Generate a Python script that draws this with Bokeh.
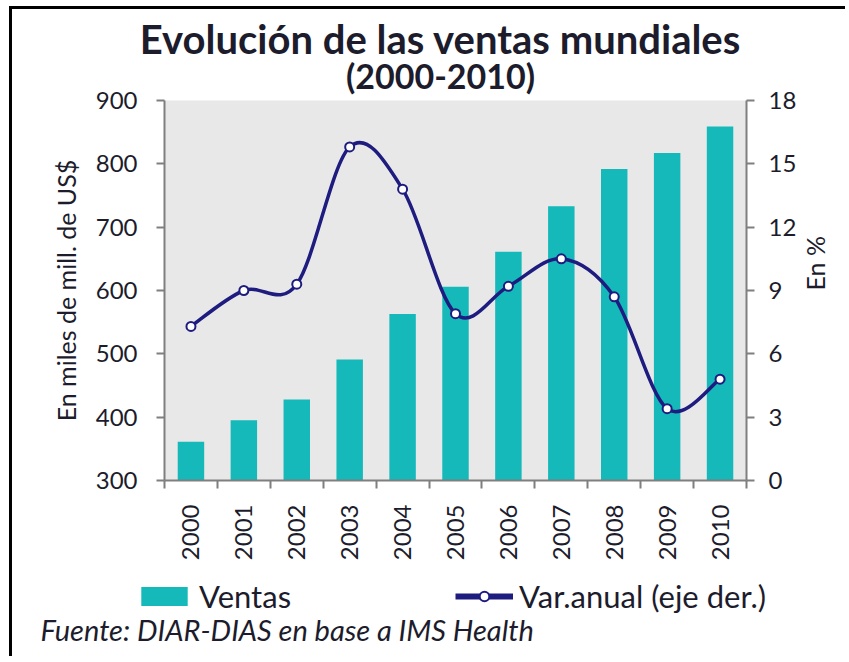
import numpy as np
from bokeh.plotting import figure
from bokeh.models import (Range1d, LinearAxis, FixedTicker, Legend, LegendItem,
                          ColumnDataSource, Label)
from bokeh.embed import file_html
from bokeh.resources import INLINE

# ---- data ----
years = ["2000", "2001", "2002", "2003", "2004", "2005", "2006", "2007", "2008", "2009", "2010"]
ventas = [361, 395, 428, 491, 563, 606, 661, 733, 792, 817, 859]
var_anual = [7.3, 9.0, 9.3, 15.8, 13.8, 7.9, 9.2, 10.5, 8.7, 3.4, 4.8]
left_ticks = [300, 400, 500, 600, 700, 800, 900]
right_ticks = [0, 3, 6, 9, 12, 15, 18]

FONT = "Lato"
TXT = "#1c1c2c"
NAVY = "#1f1c80"
TEAL = "#15b9b9"
AX = "#7f7f7f"

W, H0, H1, H2 = 836, 100, 494, 84


def strip(height):
    f = figure(width=W, height=height, output_backend="svg", toolbar_location=None,
               x_range=Range1d(-200, -199), y_range=Range1d(-200, -199),
               x_axis_type=None, y_axis_type=None, min_border=0, min_border_left=0,
               min_border_right=0, min_border_top=0, min_border_bottom=0)
    f.outline_line_color = None
    f.xgrid.visible = False
    f.ygrid.visible = False
    f.background_fill_color = "white"
    f.border_fill_color = "white"
    return f


# ---- title strip ----
t = strip(H0)
t.add_layout(Label(x=428, y=71, x_units="screen", y_units="screen",
                   text="Evolución de las ventas mundiales", text_font=FONT,
                   text_font_size="40px", text_font_style="bold", text_color=TXT,
                   text_align="center", text_baseline="middle"))
t.add_layout(Label(x=428, y=34, x_units="screen", y_units="screen",
                   text="(2000-2010)", text_font=FONT,
                   text_font_size="34px", text_font_style="bold", text_color=TXT,
                   text_align="center", text_baseline="middle"))
t.styles = {"border-top": "3px solid black", "border-left": "3px solid black",
            "margin-left": "9px", "margin-top": "6px"}

# ---- main chart ----
p = figure(width=W, height=H1, output_backend="svg", toolbar_location=None,
           x_range=Range1d(-0.5, len(years) - 0.5), y_range=Range1d(300, 900),
           min_border_left=152, min_border_right=99, min_border_top=22, min_border_bottom=92)
p.background_fill_color = "#e8e8e8"
p.border_fill_color = "white"
p.border_fill_alpha = 0
p.outline_line_color = None
p.xgrid.visible = False
p.ygrid.visible = False
p.extra_y_ranges = {"right": Range1d(0, 18)}

xs = np.arange(len(years))
src = ColumnDataSource(dict(x=xs, ventas=ventas, var=var_anual))

bars = p.vbar(x="x", top="ventas", bottom=300, width=0.5, source=src,
              fill_color=TEAL, line_color=None)

# smoothed line (bezier segments through the data points)
yv = np.array(var_anual, dtype=float)
n = len(yv)
x0, y0, x1, y1, cx0, cy0, cx1, cy1 = ([] for _ in range(8))
for i in range(n - 1):
    ip = max(i - 1, 0)
    inn = min(i + 2, n - 1)
    x0.append(xs[i]); y0.append(yv[i]); x1.append(xs[i + 1]); y1.append(yv[i + 1])
    cx0.append(xs[i] + (xs[i + 1] - xs[ip]) / 6.0)
    cy0.append(yv[i] + (yv[i + 1] - yv[ip]) / 6.0)
    cx1.append(xs[i + 1] - (xs[inn] - xs[i]) / 6.0)
    cy1.append(yv[i + 1] - (yv[inn] - yv[i]) / 6.0)
p.bezier(x0=x0, y0=y0, x1=x1, y1=y1, cx0=cx0, cy0=cy0, cx1=cx1, cy1=cy1,
         line_color=NAVY, line_width=3.5, y_range_name="right")
p.scatter(x="x", y="var", source=src, y_range_name="right", marker="circle", size=9,
          fill_color="white", line_color=NAVY, line_width=2)

# axes
ax = p.xaxis[0]
ax.ticker = FixedTicker(ticks=list(xs), minor_ticks=list(np.arange(-0.5, len(years), 1.0)))
ax.major_label_overrides = {int(i): y for i, y in zip(xs, years)}
ax.major_label_orientation = np.pi / 2
ax.major_tick_out = 0
ax.major_tick_in = 0
ax.minor_tick_out = 8
ax.minor_tick_in = 0
ax.minor_tick_line_color = AX
ax.minor_tick_line_width = 2
ax.major_label_standoff = 16

ly = p.yaxis[0]
ly.ticker = FixedTicker(ticks=left_ticks)
ly.minor_tick_line_color = None
ly.major_tick_out = 8
ly.major_tick_in = 0
ly.major_label_standoff = 19
ly.axis_label = "En miles de mill. de US$"
ly.axis_label_standoff = 12

ry = LinearAxis(y_range_name="right", ticker=FixedTicker(ticks=right_ticks))
ry.minor_tick_line_color = None
ry.major_tick_out = 8
ry.major_tick_in = 0
ry.major_label_standoff = 14
ry.axis_label = "En %"
ry.axis_label_standoff = 16
try:
    ry.axis_label_orientation = np.pi / 2
except Exception:
    pass
p.add_layout(ry, "right")

for a in (ax, ly, ry):
    a.axis_line_color = AX
    a.axis_line_width = 2
    a.major_tick_line_color = AX
    a.major_tick_line_width = 2
    a.major_label_text_font = FONT
    a.major_label_text_font_size = "24px"
    a.major_label_text_color = TXT
    a.axis_label_text_font = FONT
    a.axis_label_text_font_size = "25px"
    a.axis_label_text_font_style = "normal"
    a.axis_label_text_color = TXT

p.styles = {"border-left": "3px solid black", "margin-left": "9px", "margin-top": "-28px"}

# ---- legend / source strip ----
q = strip(H2)
# legend proxies (outside the strip's visible range)
leg_bar = q.vbar(x="x", top="ventas", bottom=300, width=0.5, source=src, fill_color=TEAL, line_color=None)
leg_line = q.line(x="x", y="var", source=src, line_color=NAVY, line_width=6)
leg_pt = q.scatter(x="x", y="var", source=src, marker="circle", size=8,
                   fill_color="white", line_color=NAVY, line_width=2)

legend = Legend(items=[LegendItem(label="Ventas", renderers=[leg_bar]),
                       LegendItem(label="Var.anual (eje der.)", renderers=[leg_line, leg_pt])],
                orientation="horizontal", location=(123, 41),
                glyph_width=58, glyph_height=24, label_standoff=6, spacing=164,
                padding=0, margin=0, border_line_color=None, background_fill_alpha=0,
                label_text_font=FONT, label_text_font_size="31px", label_text_color=TXT)
q.add_layout(legend)
q.add_layout(Label(x=28, y=27, x_units="screen", y_units="screen",
                   text="Fuente: DIAR-DIAS en base a IMS Health", text_font=FONT,
                   text_font_size="29px", text_font_style="italic", text_color=TXT,
                   text_baseline="middle"))
q.styles = {"border-left": "3px solid black", "margin-left": "9px"}

open("out.html", "w").write(file_html([t, p, q], INLINE))
